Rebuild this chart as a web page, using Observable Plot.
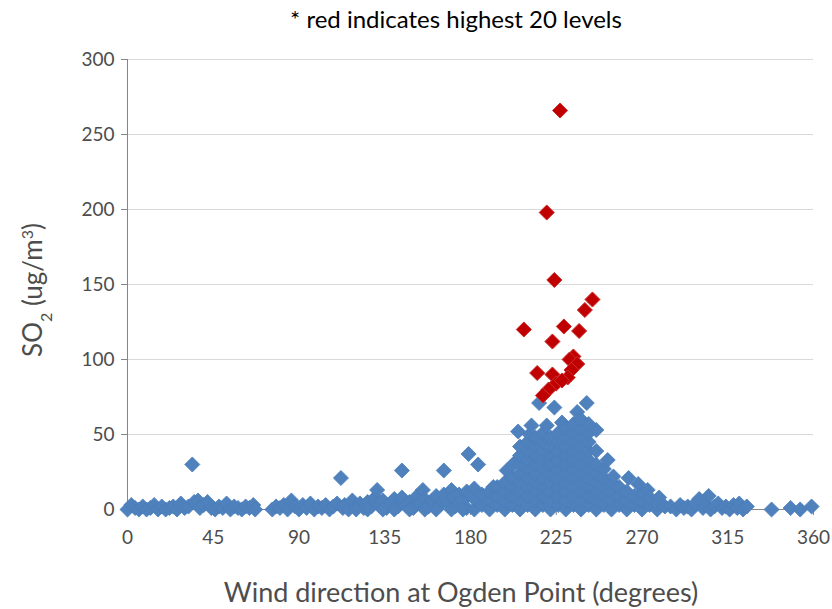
<!DOCTYPE html>
<html>
<head>
<meta charset="utf-8">
<script src="https://cdn.jsdelivr.net/npm/d3@7"></script>
<script src="https://cdn.jsdelivr.net/npm/@observablehq/plot@0.6"></script>
<style>
  html, body { margin: 0; padding: 0; background: #fff; }
  #wrap { position: relative; width: 832px; height: 609px; font-family: Lato, "Open Sans", sans-serif; }
  #title { position: absolute; top: 4px; left: 456px; transform: translateX(-50%); white-space: nowrap;
           font-size: 24px; color: #000; }
  #chart { position: absolute; top: 40px; left: 0; }
</style>
</head>
<body>
<div id="wrap">
  <div id="title">* red indicates highest 20 levels</div>
  <div id="chart"></div>
</div>
<script>
const xTicks = [0, 45, 90, 135, 180, 225, 270, 315, 360];
const yTicks = [0, 50, 100, 150, 200, 250, 300];
const xLabel = "Wind direction at Ogden Point (degrees)";

// [direction (deg), SO2 (ug/m3)]
const blueNorth = [
  [0,0],[2,3],[4,1],[6,0],[8,2],[10,0],[12,1],[14,3],[16,0],[18,2],[20,0],[22,1],[24,2],[26,0],[28,4],[30,1],
  [32,2],[34,30],[35,5],[37,6],[38,1],[40,3],[42,5],[44,1],[46,0],[48,2],[50,1],[52,4],[54,0],[56,2],[58,1],
  [60,0],[62,2],[64,1],[66,3],[67,0],[76,0],[78,2],[80,1],[82,3],[84,0],[86,6],[88,2],[90,0]
];
const blueEast = [
  [92,3],[94,1],[96,4],[98,0],[100,2],[102,1],[104,3],[106,0],[108,2],[110,4],[112,21],[113,1],[114,3],[116,0],
  [118,6],[120,2],[122,4],[124,1],[126,5],[128,2],[130,8],[131,13],[132,3],[134,6],[136,1],[138,4],[140,7],[142,2],
  [144,26],[144,8],[146,3],[148,5],[150,1],[152,9],[154,4],[155,13],[156,7],[158,2],[160,6],[162,9],[164,3],
  [166,26],[166,10],[168,5],[170,13],[171,8],[172,2],[174,10],[176,6],[178,12],[178,1],[179,37],[176,0],[170,0],
  [162,0],[156,0],[148,0],[140,0],[134,0],[126,0],[120,0]
];
const blueSouth = [
  [182,0],[182,7],[182,14],[184,30],[186,3],[186,10],[190,0],[190,6],[190,12],[192,15],
  [194,3],[194,9],[194,15],[198,0],[198,6],[198,12],[198,18],[199,26],
  [202,3],[202,9],[202,15],[202,21],[203,31],
  [206,0],[206,6],[206,12],[206,18],[206,24],[206,30],[206,36],[206,42],[205,52],
  [210,3],[210,9],[210,15],[210,21],[210,27],[210,33],[210,39],[210,45],[211,50],
  [214,0],[214,6],[214,12],[214,18],[214,24],[214,30],[214,36],[214,42],[214,48],[212,56],[216,71],
  [218,3],[218,9],[218,15],[218,21],[218,27],[218,33],[218,39],[218,45],[218,51],[220,56],
  [222,0],[222,6],[222,12],[222,18],[222,24],[222,30],[222,36],[222,42],[222,48],[224,68],
  [226,3],[226,9],[226,15],[226,21],[226,27],[226,33],[226,39],[226,45],[226,51],[228,58],
  [230,0],[230,6],[230,12],[230,18],[230,24],[230,30],[230,36],[230,42],[230,48],[230,54],
  [234,3],[234,9],[234,15],[234,21],[234,27],[234,33],[234,39],[234,45],[234,51],[234,57],[236,65],
  [238,0],[238,6],[238,12],[238,18],[238,24],[238,30],[238,36],[238,42],[238,48],[238,54],[238,60],[241,71],
  [242,3],[242,9],[242,15],[242,21],[242,27],[242,33],[242,39],[242,45],[242,51],[242,57],
  [246,0],[246,6],[246,12],[246,18],[246,24],[246,30],[246,39],[246,53],
  [250,3],[250,9],[250,15],[250,21],[250,27],[252,33],
  [254,0],[254,6],[254,12],[254,18],[255,22],[258,3],[258,9],[258,15],
  [262,0],[262,6],[262,12],[263,21],[266,3],[266,9],[268,17],
  [270,0],[270,6],[270,11],[273,13],[274,3],[274,8],[278,0],[278,4],[279,8],[282,2]
];
const blueWest = [
  [285,2],[288,0],[290,3],[292,1],[294,2],[296,0],[298,4],[300,7],[302,1],[304,3],[305,9],[306,0],[308,2],
  [310,4],[312,1],[314,2],[316,0],[318,3],[320,1],[321,4],[323,0],[325,2],[338,0],[348,1],[353,0],[359,2]
];
const redTop20 = [
  [227,266],[220,198],[224,153],[244,140],[240,133],[208,120],[229,122],[237,119],[223,112],[234,102],
  [232,100],[236,97],[215,91],[223,90],[233,93],[231,88],[225,84],[221,80],[218,76],[228,86]
];

const blue = [...blueNorth, ...blueEast, ...blueSouth, ...blueWest];

const axisColor = "#868686";
const textColor = "#4d4d4d";

const chart = Plot.plot({
  width: 832,
  height: 569,
  marginTop: 19,
  marginBottom: 100,
  marginLeft: 127,
  marginRight: 19,
  style: { fontFamily: "Lato, 'Open Sans', sans-serif", fontSize: "19px", color: textColor, background: "white" },
  x: { domain: [0, 360], label: null },
  y: { domain: [0, 300], label: null },
  marks: [
    Plot.gridY(yTicks.filter(d => d > 0), { stroke: "#d9d9d9", strokeOpacity: 1 }),
    Plot.ruleX([0], { stroke: axisColor }),
    Plot.ruleY([0], { stroke: axisColor }),
    Plot.axisY(yTicks, { tickSize: 6, tickPadding: 7, stroke: axisColor, fill: textColor, label: null }),
    Plot.axisX(xTicks, { tickSize: 6, tickPadding: 15, stroke: axisColor, fill: textColor, label: null }),
    Plot.dot(blue, { x: d => d[0], y: d => d[1], symbol: "diamond2", r: 6.8, fill: "#4F81BD", stroke: "#4A7EBB", strokeWidth: 0.8 }),
    Plot.dot(redTop20, { x: d => d[0], y: d => d[1], symbol: "diamond2", r: 6.8, fill: "#C00000", stroke: "#CC2E2E", strokeWidth: 1 })
  ]
});
document.getElementById("chart").appendChild(chart);

const svg = d3.select(chart);
// Y axis label with subscript/superscript
const yl = svg.append("text")
  .attr("transform", "translate(42,250) rotate(-90)")
  .attr("text-anchor", "middle")
  .attr("fill", textColor)
  .style("font-family", "Lato, 'Open Sans', sans-serif")
  .style("font-size", "26px");
yl.append("tspan").text("SO");
yl.append("tspan").attr("baseline-shift", "sub").style("font-size", "16px").text("2");
yl.append("tspan").text(" (ug/m");
yl.append("tspan").attr("baseline-shift", "super").style("font-size", "16px").text("3");
yl.append("tspan").text(")");

// X axis label
svg.append("text")
  .attr("x", 461).attr("y", 562)
  .attr("text-anchor", "middle")
  .attr("fill", textColor)
  .style("font-family", "Lato, 'Open Sans', sans-serif")
  .style("font-size", "27px")
  .text(xLabel);
</script>
</body>
</html>
